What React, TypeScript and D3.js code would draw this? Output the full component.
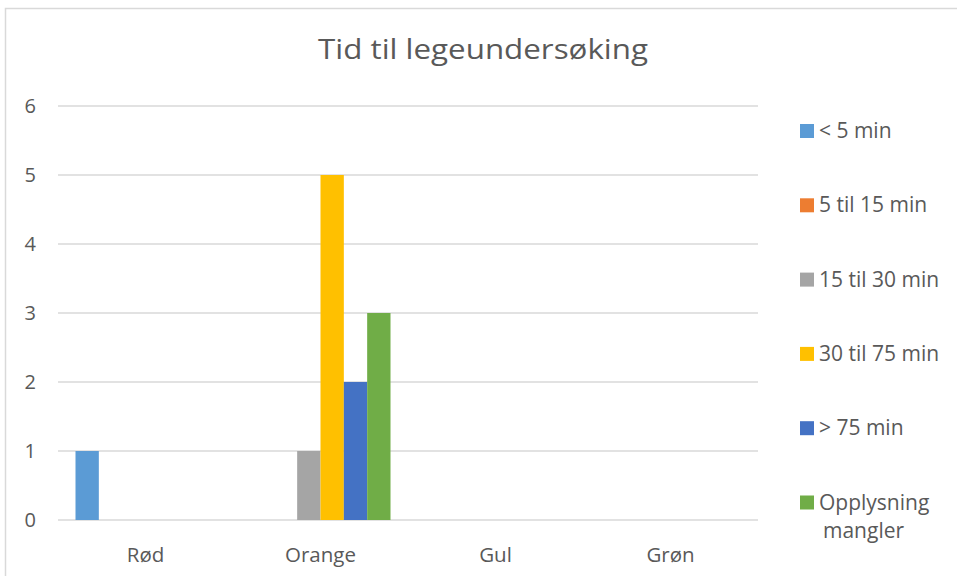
import React from "react";
import * as d3 from "d3";

const categories = ["Rød", "Orange", "Gul", "Grøn"];
const seriesNames = ["< 5 min", "5 til 15 min", "15 til 30 min", "30 til 75 min", "> 75 min", "Opplysning mangler"];
const lt5 = [1, 0, 0, 0];
const m5to15 = [0, 0, 0, 0];
const m15to30 = [0, 1, 0, 0];
const m30to75 = [0, 5, 0, 0];
const gt75 = [0, 2, 0, 0];
const missing = [0, 3, 0, 0];
const seriesValues = [lt5, m5to15, m15to30, m30to75, gt75, missing];
const colors = ["#5B9BD5", "#ED7D31", "#A5A5A5", "#FFC000", "#4472C4", "#70AD47"];
const yTicks = [0, 1, 2, 3, 4, 5, 6];

const W = 957;
const H = 576;
const FONT = "'Open Sans', sans-serif";
const TXT = "#595959";

export default function App() {
  const left = 58, right = 758, top = 106, bottom = 520;
  const x = d3.scaleBand<string>().domain(categories).range([left, right]).paddingInner(0).paddingOuter(0);
  const bw = x.bandwidth() / (seriesNames.length + 1.5);
  const y = d3.scaleLinear().domain([0, 6]).range([bottom, top]);

  return (
    <svg width={W} height={H} style={{ position: "absolute", left: 0, top: 0, background: "#fff" }} fontFamily={FONT}>
      <rect x={0} y={0} width={W} height={H} fill="#fff" />
      <path d={`M5.5,${H} V8.5 H${W}`} fill="none" stroke="#d9d9d9" strokeWidth={1.5} />
      <text x={318} y={58.5} fontSize={28} fill={TXT} textLength={330} lengthAdjust="spacingAndGlyphs">Tid til legeundersøking</text>
      {yTicks.map((t) => (
        <g key={t}>
          <line x1={left} x2={right} y1={y(t)} y2={y(t)} stroke="#d9d9d9" strokeWidth={1.5} />
          <text x={36} y={y(t) + 7} textAnchor="end" fontSize={20} fill={TXT}>{t}</text>
        </g>
      ))}
      {categories.map((c, ci) => (
        <g key={c}>
          {seriesValues.map((vals, si) => {
            const v = vals[ci];
            if (!v) return null;
            const bx = (x(c) as number) + bw * 0.75 + si * bw;
            return <rect key={si} x={bx} y={y(v)} width={bw} height={y(0) - y(v)} fill={colors[si]} />;
          })}
          <text x={(x(c) as number) + x.bandwidth() / 2} y={561.5} textAnchor="middle" fontSize={20.5} fill={TXT}>{c}</text>
        </g>
      ))}
      {seriesNames.map((n, i) => {
        const cy = 131 + i * 74.3;
        const words = n === "Opplysning mangler" ? ["Opplysning", "mangler"] : [n];
        return (
          <g key={n}>
            <rect x={800} y={cy - 7} width={14} height={14} fill={colors[i]} />
            {words.map((w, wi) => (
              <text key={wi} x={wi === 0 ? 819 : 823} y={cy + 7 + wi * 28} fontSize={21} fill={TXT}>{w}</text>
            ))}
          </g>
        );
      })}
    </svg>
  );
}
